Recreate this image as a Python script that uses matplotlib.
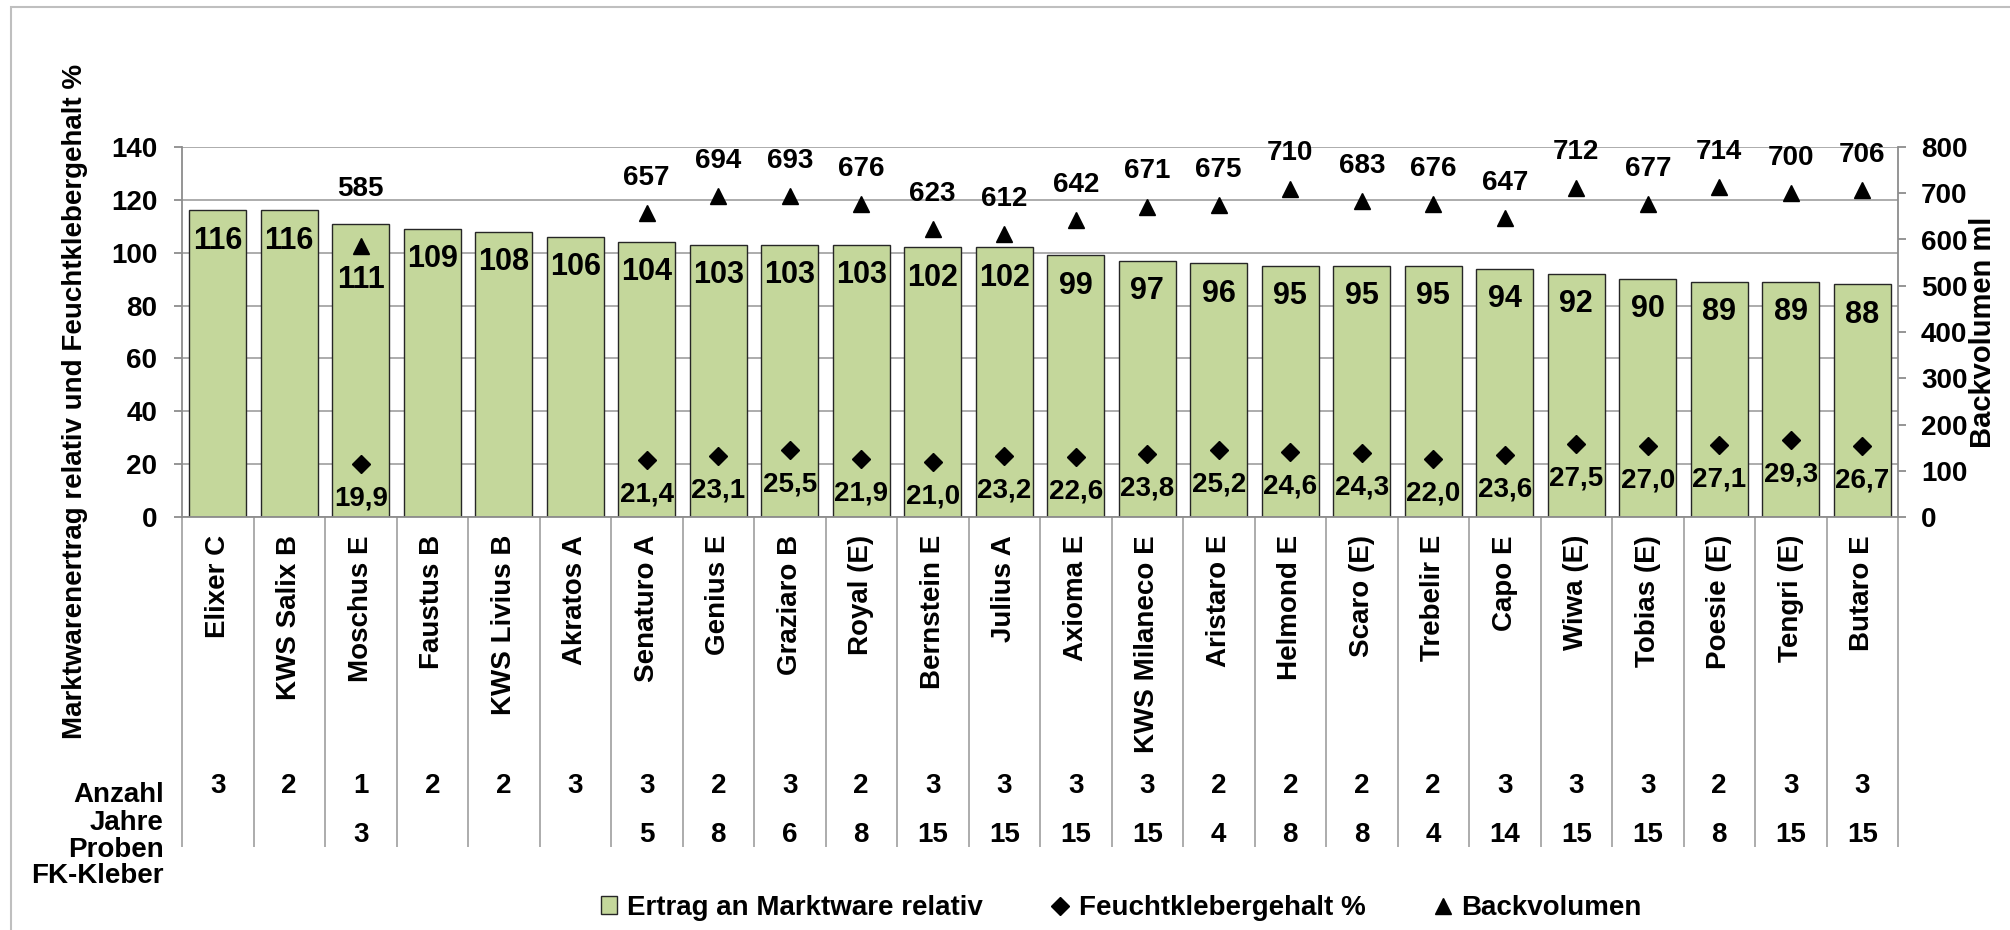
import numpy as np
import matplotlib
matplotlib.use("Agg")
import matplotlib.pyplot as plt
from matplotlib.patches import Rectangle

plt.rcParams['font.family'] = ['Liberation Sans', 'DejaVu Sans']
plt.rcParams['font.weight'] = 'bold'
FS = 20

# ---------------- data ----------------
sorten = ["Elixer C", "KWS Salix B", "Moschus E", "Faustus B", "KWS Livius B", "Akratos A",
          "Senaturo A", "Genius E", "Graziaro B", "Royal (E)", "Bernstein E", "Julius A",
          "Axioma E", "KWS Milaneco E", "Aristaro E", "Helmond E", "Scaro (E)", "Trebelir E",
          "Capo E", "Wiwa (E)", "Tobias (E)", "Poesie (E)", "Tengri (E)", "Butaro E"]
ertrag = [116, 116, 111, 109, 108, 106, 104, 103, 103, 103, 102, 102,
          99, 97, 96, 95, 95, 95, 94, 92, 90, 89, 89, 88]
feuchtkleber = [np.nan, np.nan, 19.9, np.nan, np.nan, np.nan, 21.4, 23.1, 25.5, 21.9, 21.0, 23.2,
                22.6, 23.8, 25.2, 24.6, 24.3, 22.0, 23.6, 27.5, 27.0, 27.1, 29.3, 26.7]
backvolumen = [np.nan, np.nan, 585, np.nan, np.nan, np.nan, 657, 694, 693, 676, 623, 612,
               642, 671, 675, 710, 683, 676, 647, 712, 677, 714, 700, 706]
anzahl_jahre = ["3", "2", "1", "2", "2", "3", "3", "2", "3", "2", "3", "3",
                "3", "3", "2", "2", "2", "2", "3", "3", "3", "2", "3", "3"]
proben_fk = ["", "", "3", "", "", "", "5", "8", "6", "8", "15", "15",
             "15", "15", "4", "8", "8", "4", "14", "15", "15", "8", "15", "15"]
row_labels = ["Anzahl", "Jahre", "Proben", "FK-Kleber"]
legend_labels = ["Ertrag an Marktware relativ", "Feuchtklebergehalt %", "Backvolumen"]

W, H = 2010, 930
fig = plt.figure(figsize=(W / 100, H / 100), dpi=100)

L, R, T, B = 182, 1898, 147, 517
ax = fig.add_axes([L / W, 1 - B / H, (R - L) / W, (B - T) / H])
ax2 = ax.twinx()

grid_c = '#a6a6a6'
axis_c = '#8c8c8c'

x = np.arange(len(sorten))
bars = ax.bar(x, ertrag, width=0.8, color='#c4d79b', edgecolor='#262626', linewidth=1.0,
              zorder=2, label=legend_labels[0])
fk_line, = ax.plot(x, feuchtkleber, linestyle='none', marker='D', markersize=8.7,
                   color='black', zorder=4, label=legend_labels[1])
bv_line, = ax2.plot(x, backvolumen, linestyle='none', marker='^', markersize=12,
                    color='black', zorder=4, label=legend_labels[2])

ax.set_xlim(-0.5, len(sorten) - 0.5)
ax.set_ylim(0, 140)
ax.set_yticks(np.arange(0, 141, 20))
ax2.set_ylim(0, 800)
ax2.set_yticks(np.arange(0, 801, 100))

ax.set_axisbelow(True)
ax.yaxis.grid(True, color=grid_c, linewidth=1.3, zorder=0)
for s in ['top', 'right']:
    ax.spines[s].set_visible(False)
for s in ['top', 'left', 'bottom']:
    ax2.spines[s].set_visible(False)
ax.spines['left'].set_color(axis_c)
ax.spines['bottom'].set_color(axis_c)
ax2.spines['right'].set_color(axis_c)
for sp in [ax.spines['left'], ax.spines['bottom'], ax2.spines['right']]:
    sp.set_linewidth(1.3)

ax.tick_params(axis='y', direction='out', length=5.8, width=1.3, color=axis_c,
               labelsize=FS, pad=12)
ax2.tick_params(axis='y', direction='out', length=5.5, width=1.3, color=axis_c,
                labelsize=FS, pad=11)
ax.set_xticks(x)
ax.set_xticklabels(sorten, rotation=90, fontsize=FS, fontweight='bold')
ax.tick_params(axis='x', length=0, pad=13)
for lab in ax.get_yticklabels() + ax2.get_yticklabels():
    lab.set_fontweight('bold')

# category separators (table grid)
xt = ax.get_xaxis_transform()
sep_bottom = -(847 - B) / (B - T)
ax.vlines(np.arange(-0.5, len(sorten)), sep_bottom, 0, transform=xt, colors=grid_c,
          linewidth=1.3, clip_on=False)

# table rows
y_row1 = -(793 - B) / (B - T)
y_row2 = -(842 - B) / (B - T)
for i in range(len(sorten)):
    ax.text(x[i], y_row1, anzahl_jahre[i], transform=xt, ha='center', va='baseline',
            fontsize=FS, fontweight='bold')
    ax.text(x[i], y_row2, proben_fk[i], transform=xt, ha='center', va='baseline',
            fontsize=FS, fontweight='bold')
for lab, yb in zip(row_labels, [802, 830, 857, 883]):
    fig.text(164 / W, 1 - yb / H, lab, ha='right', va='baseline', fontsize=FS,
             fontweight='bold')

# data labels
special_bar = {2: -30}
special_bv = {2: 32}
for i in range(len(sorten)):
    ax.annotate(f"{ertrag[i]}", (x[i], ertrag[i]), xytext=(0, special_bar.get(i, -11)),
                textcoords='offset points', ha='center', va='top', fontsize=FS + 2,
                fontweight='bold', zorder=5)
    if not np.isnan(feuchtkleber[i]):
        ax.annotate(f"{feuchtkleber[i]:.1f}".replace('.', ','), (x[i], feuchtkleber[i]),
                    xytext=(0, -15.5), textcoords='offset points', ha='center', va='top',
                    fontsize=FS, fontweight='bold', zorder=5)
    if not np.isnan(backvolumen[i]):
        ax2.annotate(f"{backvolumen[i]:.0f}", (x[i], backvolumen[i]),
                     xytext=(0, special_bv.get(i, 16)), textcoords='offset points',
                     ha='center', va='bottom', fontsize=FS, fontweight='bold', zorder=5)

# axis titles
ax.set_ylabel("Marktwarenertrag relativ und Feuchtklebergehalt %", fontsize=FS,
              fontweight='bold', va='center')
ax.yaxis.set_label_coords((75 - L) / (R - L), (B - 401) / (B - T))
ax2.set_ylabel("Backvolumen ml", fontsize=FS + 1, fontweight='bold', va='center',
               rotation=90)
ax2.yaxis.set_label_coords((1983 - L) / (R - L), 0.5)

# legend
leg = fig.legend(handles=[bars, fk_line, bv_line], loc='center',
                 bbox_to_anchor=(1121 / W, 1 - 908 / H), ncol=3, frameon=False,
                 handlelength=0.6, handleheight=0.6, handletextpad=0.35,
                 columnspacing=2.5, prop={'weight': 'bold', 'size': FS})
leg.legend_handles[1].set_markersize(9)
leg.legend_handles[2].set_markersize(12)

# outer chart border
fig.patches.append(Rectangle((11 / W, -0.05), 1.2, 1 - 7 / H + 0.05,
                             transform=fig.transFigure, fill=False,
                             edgecolor='#bfbfbf', linewidth=1.5))

fig.savefig("out.png", dpi=100)
